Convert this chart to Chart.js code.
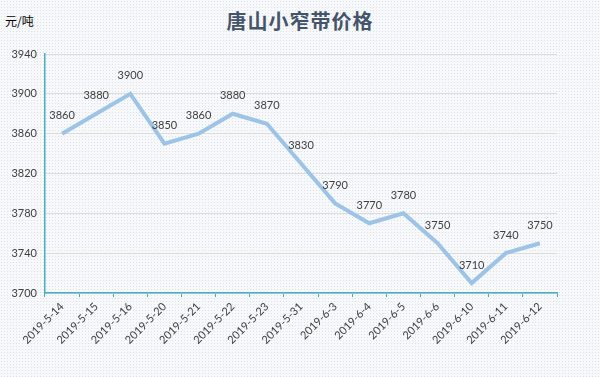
<!DOCTYPE html>
<html>
<head>
<meta charset="utf-8">
<script src="https://cdn.jsdelivr.net/npm/chart.js@4"></script>
<style>
  html, body { margin: 0; padding: 0; }
  body {
    width: 600px; height: 377px; overflow: hidden; position: relative;
    background-color: #f7f8fa;
    background-image: radial-gradient(#dde2e8 0.7px, transparent 0.8px);
    background-size: 3px 3px;
  }
  #title {
    position: absolute; left: 0; top: 6px; width: 600px; text-align: center;
    font-family: "Noto Sans CJK SC", sans-serif; font-weight: bold; font-size: 20px;
    color: #44546a; letter-spacing: 1px;
  }
  #unit {
    position: absolute; left: 5px; top: 12px;
    font-family: "Noto Sans CJK SC", sans-serif; font-size: 12px; color: #000;
  }
  #chart { position: absolute; left: 0; top: 0; }
</style>
</head>
<body>
<div id="title">唐山小窄带价格</div>
<div id="unit">元/吨</div>
<canvas id="chart" width="600" height="377"></canvas>
<script>
const dates = ['2019-5-14', '2019-5-15', '2019-5-16', '2019-5-20', '2019-5-21', '2019-5-22', '2019-5-23',
    '2019-5-31', '2019-6-3', '2019-6-4', '2019-6-5', '2019-6-6', '2019-6-10', '2019-6-11', '2019-6-12'];
const prices = [3860, 3880, 3900, 3850, 3860, 3880, 3870, 3830, 3790, 3770, 3780, 3750, 3710, 3740, 3750];
const yTicks = [3700, 3740, 3780, 3820, 3860, 3900, 3940];

// draws the value above each point
const valueLabels = {
    id: 'valueLabels',
    afterDatasetsDraw(chart) {
        const ctx = chart.ctx;
        const meta = chart.getDatasetMeta(0);
        ctx.save();
        ctx.font = '11px Lato, "Open Sans", sans-serif';
        ctx.fillStyle = '#404040';
        ctx.textAlign = 'center';
        ctx.textBaseline = 'middle';
        meta.data.forEach((pt, i) => {
            ctx.fillText(prices[i], pt.x, pt.y - 18);
        });
        ctx.restore();
    }
};

const ctx = document.getElementById('chart').getContext('2d');
new Chart(ctx, {
    type: 'line',
    data: {
        labels: dates,
        datasets: [{
            data: prices,
            borderColor: '#9dc3e6',
            borderWidth: 4,
            pointRadius: 0,
            tension: 0,
            fill: false
        }]
    },
    plugins: [valueLabels],
    options: {
        responsive: false,
        animation: false,
        layout: { padding: { top: 54, right: 43, left: 0, bottom: 0 } },
        plugins: { legend: { display: false }, tooltip: { enabled: false } },
        scales: {
            x: {
                offset: true,
                grid: {
                    offset: true,
                    drawOnChartArea: false,
                    color: '#4bacc6',
                    tickLength: 4
                },
                border: { color: '#4bacc6', width: 1.5 },
                ticks: {
                    minRotation: 45,
                    maxRotation: 45,
                    autoSkip: false,
                    color: '#404040',
                    font: { family: 'Lato, "Open Sans", sans-serif', size: 11 }
                },
                afterFit(scale) { scale.height = 84; }
            },
            y: {
                min: 3700,
                max: 3940,
                afterBuildTicks(scale) { scale.ticks = yTicks.map(v => ({ value: v })); },
                grid: { color: '#dcdcdc', drawTicks: false },
                border: { color: '#4bacc6', width: 1.5 },
                ticks: {
                    padding: 8,
                    color: '#404040',
                    font: { family: 'Lato, "Open Sans", sans-serif', size: 11 },
                    callback: v => String(v)
                },
                afterFit(scale) { scale.width = 45; }
            }
        }
    }
});
</script>
</body>
</html>
